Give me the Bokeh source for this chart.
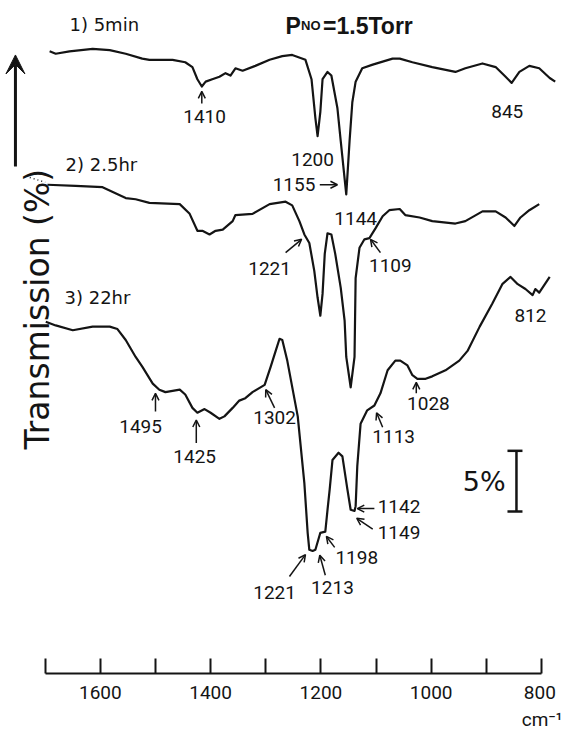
import math
from bokeh.plotting import figure
from bokeh.models import Range1d, FixedTicker, Arrow, OpenHead, VeeHead, ColumnDataSource
from bokeh.core.properties import value
from bokeh.embed import file_html
from bokeh.resources import INLINE

# ---------------- data (wavenumber cm-1, transmission % incl. stacking offset) ----------------
wn_5min = [1692, 1681, 1656, 1614, 1583, 1554, 1524, 1511, 1469, 1446, 1433, 1424, 1416, 1409, 1397,
           1384, 1373, 1364, 1355, 1342, 1319, 1293, 1270, 1252, 1228, 1217, 1210, 1206, 1201, 1197,
           1188, 1181, 1170, 1164, 1157, 1154, 1148, 1143, 1137, 1125, 1106, 1070, 1057, 1034, 998,
           956, 938, 907, 883, 865, 854, 840, 822, 804, 785, 775]
tr_5min = [51.3, 51.1, 51.3, 51.5, 51.4, 51.1, 50.7, 50.6, 50.6, 50.4, 50.0, 49.0, 48.4, 48.8, 49.0,
           49.2, 49.5, 49.3, 49.9, 49.7, 50.1, 50.6, 50.9, 51.0, 50.6, 49.0, 45.8, 44.3, 46.3, 49.0,
           49.6, 49.3, 46.6, 43.9, 40.8, 39.5, 43.9, 47.1, 48.8, 49.9, 50.2, 50.7, 50.7, 50.4, 50.0,
           49.6, 49.9, 50.3, 50.0, 49.2, 48.7, 49.6, 50.1, 49.9, 49.1, 48.8]

wn_2h = [1696, 1645, 1596, 1554, 1536, 1511, 1456, 1438, 1424, 1415, 1402, 1391, 1378, 1360, 1355,
         1324, 1293, 1264, 1252, 1239, 1230, 1221, 1212, 1206, 1201, 1197, 1193, 1188, 1181, 1174,
         1164, 1157, 1154, 1146, 1139, 1137, 1130, 1121, 1112, 1101, 1088, 1076, 1057, 1047, 1021,
         998, 956, 938, 907, 883, 865, 849, 838, 822, 804]
tr_2h = [40.3, 40.2, 40.1, 39.2, 39.1, 38.8, 38.7, 37.9, 36.5, 36.5, 36.2, 36.5, 36.6, 37.3, 37.8,
         37.9, 38.7, 38.9, 38.6, 37.3, 36.2, 35.5, 33.2, 31.0, 29.5, 31.3, 34.6, 36.3, 36.2, 34.6,
         31.8, 29.1, 26.1, 23.6, 26.1, 32.6, 35.1, 35.8, 35.9, 36.7, 37.7, 38.2, 38.3, 37.8, 37.6,
         37.3, 37.1, 37.3, 38.1, 38.1, 37.6, 36.9, 37.6, 38.2, 38.7]

wn_22h = [1699, 1681, 1650, 1614, 1583, 1569, 1554, 1536, 1524, 1505, 1493, 1482, 1456, 1446, 1433,
          1424, 1411, 1400, 1384, 1375, 1360, 1348, 1337, 1324, 1302, 1291, 1282, 1275, 1270, 1261,
          1242, 1230, 1224, 1221, 1215, 1210, 1201, 1192, 1188, 1184, 1179, 1168, 1161, 1152, 1146,
          1139, 1137, 1134, 1128, 1116, 1103, 1092, 1079, 1065, 1056, 1043, 1034, 1025, 1010, 998,
          974, 949, 934, 912, 889, 871, 856, 843, 829, 816, 811, 804, 785]
tr_22h = [29.0, 28.7, 28.3, 28.6, 28.6, 28.4, 27.5, 26.1, 25.3, 23.9, 23.4, 23.2, 23.4, 23.0, 21.9,
          21.5, 21.8, 21.5, 21.0, 21.2, 21.9, 22.5, 22.7, 23.2, 23.8, 25.3, 26.6, 27.6, 27.5, 25.8,
          21.2, 15.7, 11.6, 10.2, 10.1, 10.2, 11.6, 11.7, 13.5, 15.2, 17.6, 18.2, 17.9, 15.2, 13.5,
          13.4, 13.8, 17.1, 20.6, 21.7, 22.1, 23.1, 25.0, 25.8, 25.8, 25.4, 24.6, 24.3, 24.3, 24.5,
          25.0, 25.8, 26.6, 28.6, 30.5, 32.1, 32.7, 32.1, 31.7, 31.2, 31.7, 31.4, 32.7]

series_names = ["1) 5min", "2) 2.5hr", "3) 22hr"]

# peak labels
peak_text = ["1410", "1200", "1155", "845", "1221", "1144", "1109", "812", "1495", "1425",
             "1302", "1028", "1113", "1142", "1149", "1198", "1213", "1221"]
peak_wn = [1411, 1215, 1210, 862, 1293, 1137, 1074, 820, 1527, 1429,
           1284, 1005, 1068, 1097, 1097, 1135, 1179, 1284]
peak_tr = [45.9, 42.4, 40.3, 46.3, 33.4, 37.5, 33.6, 29.5, 20.4, 17.9,
           21.1, 22.3, 19.5, 13.8, 11.6, 9.6, 7.05, 6.64]
peak_align = ["center", "center", "right", "center", "center", "center", "center", "center",
              "center", "center", "center", "center", "center", "left", "left", "center",
              "center", "center"]

# pointer arrows: tail -> tip
arr_x0 = [1416, 1202, 1264, 1092, 1500, 1426, 1284, 1027, 1088, 1103, 1106, 1175, 1192, 1257]
arr_y0 = [47.0, 40.3, 34.7, 34.7, 21.6, 19.0, 21.9, 23.1, 20.3, 13.6, 11.9, 10.4, 8.1, 8.0]
arr_x1 = [1416, 1170, 1235, 1110, 1500, 1426, 1300, 1027, 1099, 1134, 1135, 1190, 1202, 1228]
arr_y1 = [48.0, 40.3, 35.8, 35.8, 23.1, 20.9, 23.4, 24.0, 21.5, 13.6, 12.8, 11.3, 9.75, 9.8]

major_ticks = [1600, 1400, 1200, 1000, 800]
minor_ticks = [1700, 1500, 1300, 1100, 900]
x_unit = "cm⁻¹"

# ---------------- figure ----------------
p = figure(width=562, height=734, x_range=Range1d(1781.1, 761.8), y_range=Range1d(0, 55.49),
           output_backend="svg", toolbar_location=None, y_axis_location=None,
           min_border_left=0, min_border_right=0, min_border_top=0, min_border_bottom=57)
p.outline_line_color = None
p.grid.visible = False
p.background_fill_color = "white"
p.border_fill_color = "white"

ink = "#141414"
for wn, tr in [(wn_5min, tr_5min), (wn_2h, tr_2h), (wn_22h, tr_22h)]:
    p.line(wn, tr, line_color=ink, line_width=2.2, line_join="round")

# series titles
p.text(x=[1656, 1663, 1665], y=[53.5, 42.0, 31.0], text=series_names,
       text_font=value("DejaVu Sans"), text_font_size="18px", text_color=ink,
       text_align="left", text_baseline="middle")

# pressure title
p.text(x=[1264], y=[53.42], text=["P"], text_font=value("Liberation Sans"), text_font_style="bold",
       text_font_size="23px", text_color=ink, text_baseline="alphabetic")
p.text(x=[1236], y=[53.42], text=["NO"], text_font=value("Liberation Sans"), text_font_style="bold",
       text_font_size="13px", text_color=ink, text_baseline="alphabetic")
p.text(x=[1196], y=[53.42], text=["=1.5Torr"], text_font=value("Liberation Sans"),
       text_font_style="bold", text_font_size="23px", text_color=ink, text_baseline="alphabetic")

# peak labels
src = ColumnDataSource(dict(x=peak_wn, y=peak_tr, text=peak_text, align=peak_align))
p.text(x="x", y="y", text="text", text_align="align", source=src, text_baseline="middle",
       text_font=value("Roboto"), text_font_size="19px", text_color=ink)

asrc = ColumnDataSource(dict(x0=arr_x0, y0=arr_y0, x1=arr_x1, y1=arr_y1))
p.add_layout(Arrow(end=OpenHead(size=7, line_width=1.5, line_color=ink), x_start="x0", y_start="y0",
                   x_end="x1", y_end="y1", source=asrc, line_width=1.5, line_color=ink))

# y-axis title and arrow
p.text(x=[1714], y=[30.04], text=["Transmission (%)"], angle=math.pi / 2, text_align="center",
       text_baseline="alphabetic", text_font=value("DejaVu Sans"), text_font_size="33px",
       text_color=ink)
p.add_layout(Arrow(end=VeeHead(size=19, fill_color=ink, line_color=ink), x_start=1754, y_start=41.8,
                   x_end=1754, y_end=51.0, line_width=3, line_color=ink))
p.line([1728, 1700], [40.9, 40.5], line_dash="1 3", line_width=1.5, line_color=ink)

# 5 % scale bar
p.segment(x0=[845.3, 861.6, 861.6], y0=[13.36, 13.36, 18.36], x1=[845.3, 834.4, 834.4],
          y1=[18.36, 13.36, 18.36], line_width=2.5, line_color=ink)
p.text(x=[865], y=[15.8], text=["5%"], text_align="right", text_baseline="middle",
       text_font=value("DejaVu Sans"), text_font_size="27px", text_color=ink)

# x axis
ax = p.xaxis[0]
ax.ticker = FixedTicker(ticks=major_ticks, minor_ticks=minor_ticks)
ax.bounds = (800, 1700)
ax.axis_line_width = 2
ax.axis_line_color = ink
ax.major_tick_line_width = 2
ax.minor_tick_line_width = 2
ax.major_tick_line_color = ink
ax.minor_tick_line_color = ink
ax.major_tick_in = 15
ax.major_tick_out = 0
ax.minor_tick_in = 15
ax.minor_tick_out = 0
ax.major_label_text_font = "Roboto"
ax.major_label_text_font_size = "19px"
ax.major_label_text_color = ink
ax.major_label_standoff = 7
nb = "\u00a0"
ax.major_label_overrides = {800: nb * 2 + "800\n" + nb * 3 + x_unit}

open("out.html", "w").write(file_html(p, INLINE))
